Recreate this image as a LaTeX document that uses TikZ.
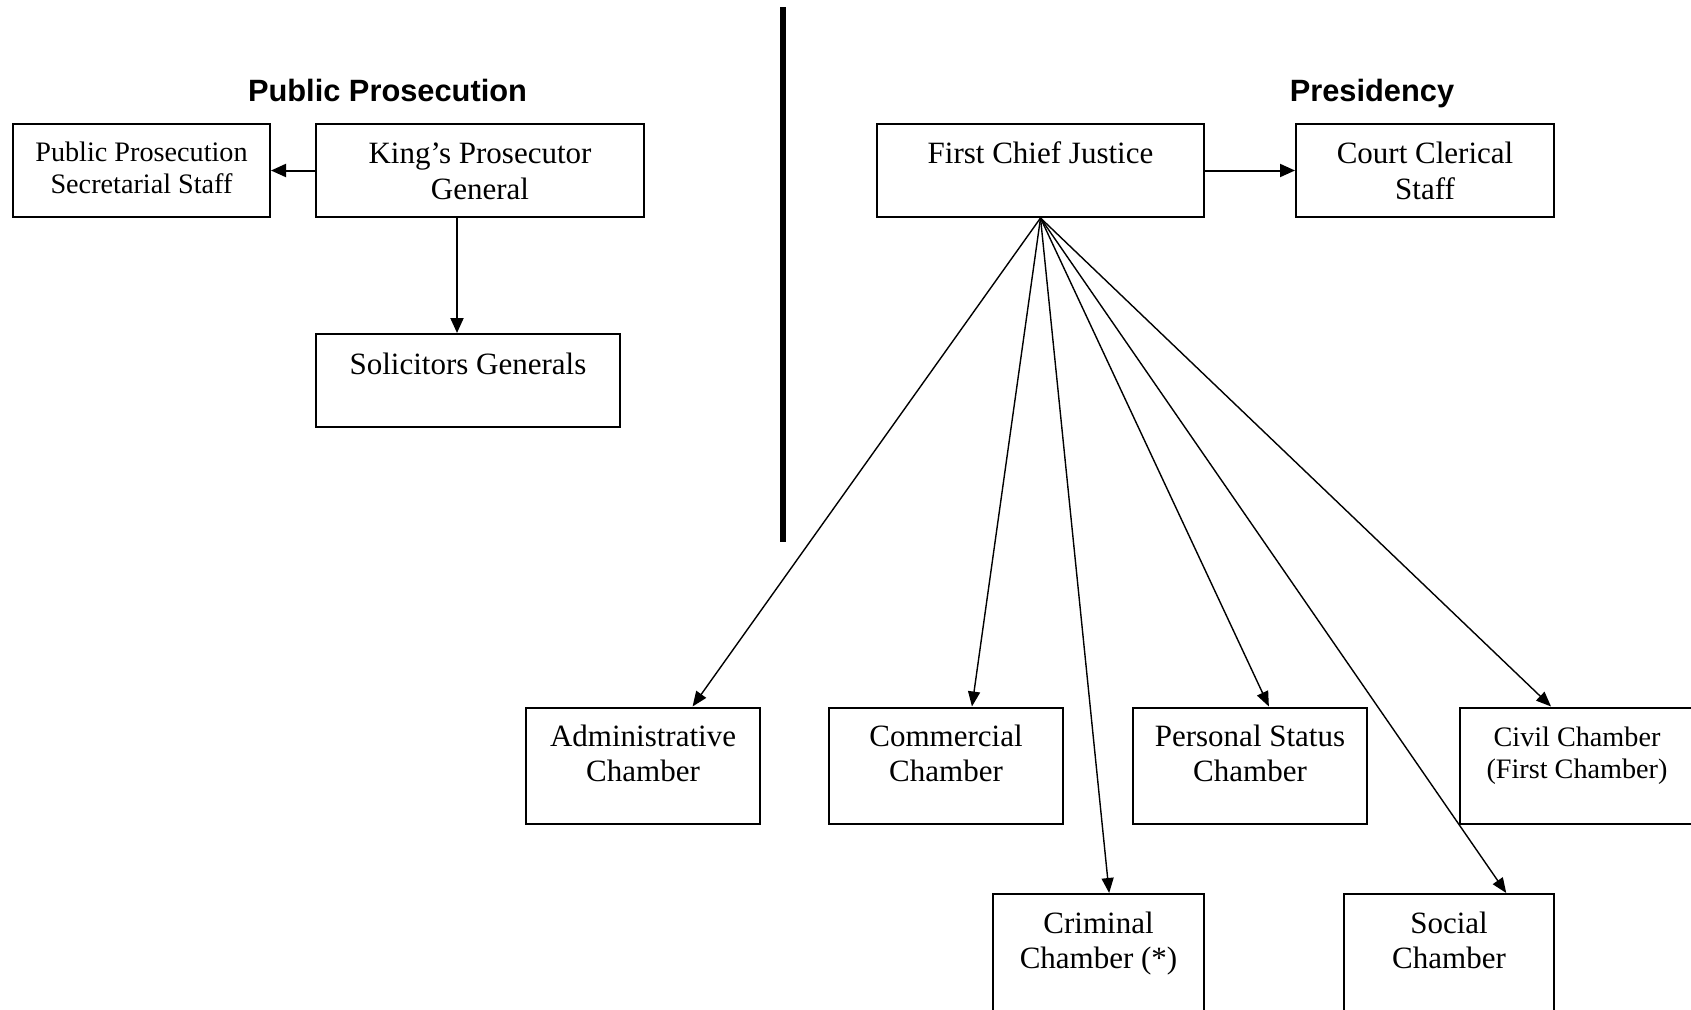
\documentclass[tikz,border=0pt]{standalone}
\usepackage{fontspec}
\setmainfont{Liberation Serif}
\newfontfamily\headfont{Liberation Sans}
\usetikzlibrary{arrows.meta,calc}

% centred multi-line text whose baseline is the first line's
\newcommand\stacked[1]{\begin{tabular}[t]{@{}c@{}}#1\end{tabular}}

\begin{document}
\begin{tikzpicture}[x=1pt,y=-1pt,
  box/.style={draw, line width=2pt, rectangle, inner sep=0pt},
  big/.style={font=\fontsize{31}{35.5}\selectfont, inner sep=0pt, anchor=base},
  small/.style={font=\fontsize{28.2}{32.5}\selectfont, inner sep=0pt, anchor=base},
  head/.style={font=\headfont\bfseries\fontsize{30.8}{36}\selectfont, inner sep=0pt, anchor=base},
  link/.style={line width=2pt, -{Triangle[length=15pt,width=13pt]}},
  fan/.style={line width=1.4pt, -{Triangle[length=15pt,width=12pt]}},
]
\useasboundingbox (0,0) rectangle (1691,1009);

% dividing bar between the two branches
\draw[line width=5.5pt] (783,7) -- (783,542);

% section headings
\node[head] (hpp) at (387.5,101) {Public Prosecution};
\node[head] (hpr) at (1372,101) {Presidency};

% public prosecution branch
\node[box, minimum width=257pt, minimum height=93pt] (pps) at (141.5,170.5) {};
\node[small] (pps-t) at (141.5,161) {\stacked{Public Prosecution\\Secretarial Staff}};
\node[box, minimum width=328pt, minimum height=93pt] (kpg) at (480,170.5) {};
\node[big] (kpg-t) at (480,163.5) {\stacked{King’s Prosecutor\\General}};
\node[box, minimum width=304pt, minimum height=93pt] (sol) at (468,380.5) {};
\node[big] (sol-t) at (468,374) {Solicitors Generals};

% presidency branch
\node[box, minimum width=327pt, minimum height=93pt] (fcj) at (1040.5,170.5) {};
\node[big] (fcj-t) at (1040.5,163.5) {First Chief Justice};
\node[box, minimum width=258pt, minimum height=93pt] (ccs) at (1425,170.5) {};
\node[big] (ccs-t) at (1425,163.5) {\stacked{Court Clerical\\Staff}};

% chambers, first row
\node[box, minimum width=234pt, minimum height=116.5pt] (adm) at (643,765.75) {};
\node[big] (adm-t) at (643,746) {\stacked{Administrative\\Chamber}};
\node[box, minimum width=234pt, minimum height=116.5pt] (com) at (946,765.75) {};
\node[big] (com-t) at (946,746) {\stacked{Commercial\\Chamber}};
\node[box, minimum width=234pt, minimum height=116.5pt] (pst) at (1250,765.75) {};
\node[big] (pst-t) at (1250,746) {\stacked{Personal Status\\Chamber}};
\node[box, minimum width=234pt, minimum height=116.5pt] (civ) at (1577,765.75) {};
\node[small] (civ-t) at (1577,746) {\stacked{Civil Chamber\\(First Chamber)}};

% chambers, second row
\node[box, minimum width=211pt, minimum height=126pt] (cri) at (1098.5,957) {};
\node[big] (cri-t) at (1098.5,933) {\stacked{Criminal\\Chamber (*)}};
\node[box, minimum width=210pt, minimum height=126pt] (soc) at (1449,957) {};
\node[big] (soc-t) at (1449,933) {\stacked{Social\\Chamber}};

% connectors
\coordinate (kx) at (457,0);
\draw[link] (kpg.west) -- (pps.east);
\draw[link] (kpg.south -| kx) -- (sol.north -| kx);
\draw[link] (fcj.east) -- (ccs.west);

\draw[fan] (fcj.south) -- ($(adm.north west)!0.71!(adm.north east)$);
\draw[fan] (fcj.south) -- ($(com.north west)!0.61!(com.north east)$);
\draw[fan] (fcj.south) -- ($(cri.north west)!0.55!(cri.north east)$);
\draw[fan] (fcj.south) -- ($(pst.north west)!0.58!(pst.north east)$);
\draw[fan] (fcj.south) -- ($(soc.north west)!0.77!(soc.north east)$);
\draw[fan] (fcj.south) -- ($(civ.north west)!0.39!(civ.north east)$);
\end{tikzpicture}
\end{document}
